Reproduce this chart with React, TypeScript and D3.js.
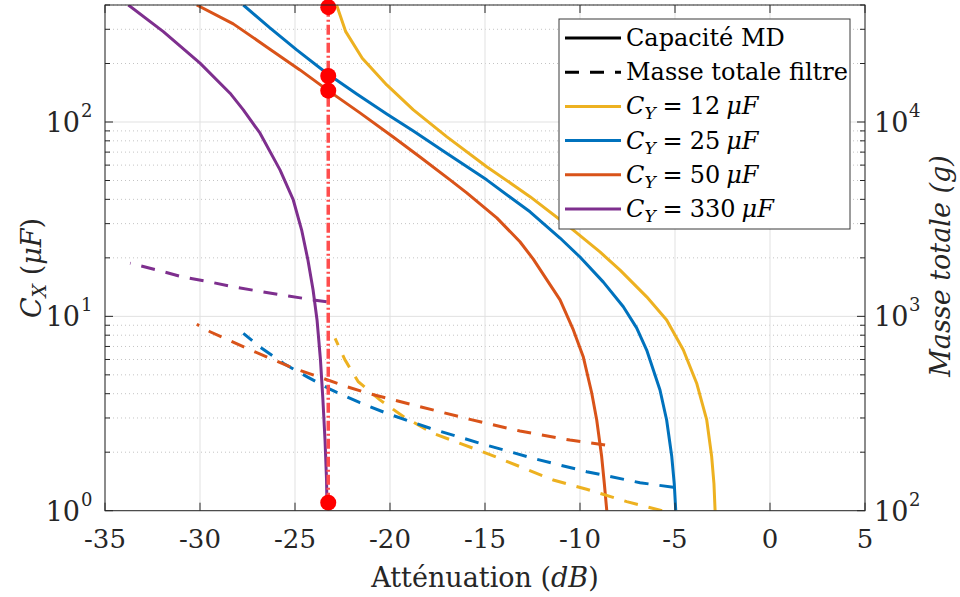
import React from "react";
import * as d3 from "d3";

// ---- data ----
const X_TICKS = [-35, -30, -25, -20, -15, -10, -5, 0, 5];
const LEFT_TICKS = [1, 10, 100];
const LEFT_EXP = ["0", "1", "2"];
const RIGHT_TICKS = [100, 1000, 10000];
const RIGHT_EXP = ["2", "3", "4"];

// Capacité MD (C_X in µF) vs attenuation (dB)
const capa12: [number, number][] = [[-22.81, 400], [-22.33, 291.7], [-21.46, 212.9], [-20.17, 155.2], [-18.77, 115.4], [-17.02, 84.1], [-14.91, 58.9], [-12.63, 41.3], [-10.35, 27.8], [-8.95, 21.45], [-7.89, 17.3], [-6.49, 12.6], [-5.44, 9.58], [-4.56, 6.71], [-3.86, 4.53], [-3.33, 2.93], [-3.07, 1.9], [-2.95, 1.38], [-2.89, 1.0]];
const capa25: [number, number][] = [[-27.72, 400], [-26.32, 305], [-24.91, 235], [-23.33, 178.3], [-21.75, 139.5], [-20.17, 110.1], [-18.77, 90], [-17.02, 69.1], [-14.91, 50.4], [-12.63, 34.5], [-11.05, 25.3], [-10.0, 20.2], [-8.77, 15.0], [-7.72, 11.2], [-7.02, 8.72], [-6.49, 6.71], [-5.79, 4.18], [-5.44, 2.93], [-5.17, 1.9], [-5.04, 1.38], [-4.96, 1.0]];
const capa50: [number, number][] = [[-30.17, 400], [-28.25, 319.8], [-26.49, 243.5], [-24.74, 185.4], [-23.25, 145.1], [-21.58, 111.4], [-19.83, 83.8], [-18.42, 66.1], [-16.84, 50.4], [-15.96, 43.2], [-14.38, 32.1], [-13.16, 24.2], [-12.46, 19.7], [-11.05, 12.15], [-10.35, 8.51], [-9.83, 6.2], [-9.38, 4.02], [-9.12, 2.93], [-8.86, 1.9], [-8.72, 1.38], [-8.59, 1.0]];
const capa330: [number, number][] = [[-33.77, 400], [-31.93, 291.7], [-30.0, 200.8], [-28.42, 140.7], [-27.72, 115.4], [-26.84, 87.6], [-25.79, 56.7], [-25.09, 39.7], [-24.65, 27.8], [-24.32, 19.5], [-24.05, 13.7], [-23.84, 9.58], [-23.66, 5.97], [-23.53, 3.71], [-23.42, 2.31], [-23.34, 1.44], [-23.32, 1.1]];

// Masse totale filtre (g) vs attenuation (dB)
const mass12: [number, number][] = [[-22.89, 771], [-22.37, 597], [-21.67, 461], [-20.53, 371.5], [-19.3, 305], [-17.72, 250], [-14.91, 197.4], [-11.41, 143.9], [-9.65, 128.9], [-7.54, 111.3], [-5.68, 100]];
const mass25: [number, number][] = [[-27.72, 818], [-26.75, 685], [-25.62, 574], [-24.38, 490], [-23.16, 422], [-21.58, 359.5], [-20.17, 317], [-17.89, 265.6], [-15.26, 222.3], [-12.28, 183.9], [-9.65, 158.8], [-6.84, 139.3], [-5.09, 132]];
const mass50: [number, number][] = [[-30.17, 910], [-29.47, 833], [-27.54, 685], [-26.32, 608], [-25.09, 541], [-23.68, 486], [-22.28, 435], [-21.05, 399], [-18.42, 343], [-15.79, 295], [-13.16, 257], [-10.53, 231], [-8.68, 218]];
const mass330: [number, number][] = [[-33.68, 1876], [-32.28, 1733], [-30.96, 1600], [-29.56, 1509], [-28.16, 1413], [-26.75, 1340], [-25.35, 1274], [-24.04, 1215], [-23.33, 1190]];

const CY_LABELS = ["12", "25", "50", "330"];
const COLORS = ["#EDB120", "#0072BD", "#D95319", "#7E2F8E"];

const SEL_X = -23.25;
const SEL_LINE_Y = [1.1, 400];
const SEL_MARKERS = [390, 172.5, 145, 1.1];

const FONT = "'DejaVu Serif', 'Liberation Serif', serif";

export default function App() {
  const left = 105, right = 865, top = 5, bottom = 510.7;
  const x = d3.scaleLinear().domain([-35, 5]).range([left, right]);
  const yL = d3.scaleLog().domain([1, 400]).range([bottom, top]);
  const yR = d3.scaleLog().domain([100, 40000]).range([bottom, top]);

  const lineL = d3
    .line<[number, number]>()
    .x((d) => x(d[0]))
    .y((d) => yL(d[1]));
  const lineR = d3
    .line<[number, number]>()
    .x((d) => x(d[0]))
    .y((d) => yR(d[1]));

  const solids = [capa12, capa25, capa50, capa330];
  const dashed = [mass12, mass25, mass50, mass330];

  const minorL: number[] = [];
  [1, 10, 100].forEach((dec) => {
    for (let k = 2; k <= 9; k++) if (k * dec <= 400) minorL.push(k * dec);
  });
  const minorR: number[] = [];
  [100, 1000, 10000].forEach((dec) => {
    for (let k = 2; k <= 9; k++) if (k * dec <= 40000) minorR.push(k * dec);
  });

  const axisColor = "#262626";
  const dash = "14 11";

  const legendRows = [38, 72.2, 106.4, 140.6, 174.8, 209];

  return (
    <svg width={960} height={597} style={{ position: "absolute", left: 0, top: 0, background: "#fff" }} fontFamily={FONT}>
      <defs>
        <clipPath id="plotClip">
          <rect x={left} y={top} width={right - left} height={bottom - top} />
        </clipPath>
      </defs>
      <rect x={0} y={0} width={960} height={597} fill="#fff" />
      {/* grid */}
      {minorL.map((v) => (
        <line key={"mg" + v} x1={left} x2={right} y1={yL(v)} y2={yL(v)} stroke="#c4c4c4" strokeWidth={1} strokeDasharray="1 3" />
      ))}
      {X_TICKS.map((t) => (
        <line key={"gx" + t} x1={x(t)} x2={x(t)} y1={top} y2={bottom} stroke="#e1e1e1" strokeWidth={1} />
      ))}
      {LEFT_TICKS.map((t) => (
        <line key={"gy" + t} x1={left} x2={right} y1={yL(t)} y2={yL(t)} stroke="#e1e1e1" strokeWidth={1} />
      ))}

      {/* data */}
      <g clipPath="url(#plotClip)">
        {solids.map((s, i) => (
          <path key={"s" + i} d={lineL(s) || ""} fill="none" stroke={COLORS[i]} strokeWidth={3} strokeLinejoin="round" />
        ))}
        {dashed.map((s, i) => (
          <path key={"d" + i} d={lineR([...s].reverse()) || ""} fill="none" stroke={COLORS[i]} strokeWidth={3} strokeDasharray={dash} />
        ))}
      </g>
      <line x1={x(SEL_X)} x2={x(SEL_X)} y1={yL(SEL_LINE_Y[0])} y2={yL(SEL_LINE_Y[1])} stroke="#FF4D4D" strokeWidth={3.5} strokeDasharray="10 3 2 3" />
      {SEL_MARKERS.map((m, i) => (
        <circle key={"m" + i} cx={x(SEL_X)} cy={yL(m)} r={8} fill="#FF0000" />
      ))}

      {/* axes box */}
      <rect x={left} y={top} width={right - left} height={bottom - top} fill="none" stroke={axisColor} strokeWidth={1} />
      {X_TICKS.map((t) => (
        <g key={"xt" + t}>
          <line x1={x(t)} x2={x(t)} y1={bottom} y2={bottom - 8} stroke={axisColor} />
          <line x1={x(t)} x2={x(t)} y1={top} y2={top + 8} stroke={axisColor} />
          <text x={x(t)} y={548} textAnchor="middle" fontSize={26} fill="#262626">{t < 0 ? "-" + Math.abs(t) : String(t)}</text>
        </g>
      ))}
      {LEFT_TICKS.map((t, i) => (
        <g key={"yl" + t}>
          <line x1={left} x2={left + 8} y1={yL(t)} y2={yL(t)} stroke={axisColor} />
          <text x={80} y={yL(t) + 10} textAnchor="end" fontSize={27} fill="#262626">10</text>
          <text x={81} y={yL(t) - 5} textAnchor="start" fontSize={18} fill="#262626">{LEFT_EXP[i]}</text>
        </g>
      ))}
      {minorL.map((v) => (
        <line key={"mtl" + v} x1={left} x2={left + 5} y1={yL(v)} y2={yL(v)} stroke={axisColor} />
      ))}
      {RIGHT_TICKS.map((t, i) => (
        <g key={"yr" + t}>
          <line x1={right} x2={right - 8} y1={yR(t)} y2={yR(t)} stroke={axisColor} />
          <text x={874} y={yR(t) + 10} textAnchor="start" fontSize={27} fill="#262626">10</text>
          <text x={909} y={yR(t) - 5} textAnchor="start" fontSize={18} fill="#262626">{RIGHT_EXP[i]}</text>
        </g>
      ))}
      {minorR.map((v) => (
        <line key={"mtr" + v} x1={right} x2={right - 5} y1={yR(v)} y2={yR(v)} stroke={axisColor} />
      ))}

      {/* axis labels */}
      <text x={(left + right) / 2} y={587} textAnchor="middle" fontSize={27} fill="#262626">
        Atténuation (<tspan fontStyle="italic">dB</tspan>)
      </text>
      <text transform={`translate(41,268) rotate(-90)`} textAnchor="middle" fontSize={27} fill="#262626">
        <tspan fontStyle="italic">C</tspan>
        <tspan fontStyle="italic" fontSize={19} dy={5}>X</tspan>
        <tspan dy={-5}> (</tspan>
        <tspan fontStyle="italic">μF</tspan>)
      </text>
      <text transform={`translate(950,266) rotate(-90)`} textAnchor="middle" fontSize={27} fontStyle="italic" fill="#262626">
        Masse totale (g)
      </text>

      {/* legend */}
      <rect x={559} y={19} width={291} height={210} fill="#fff" stroke="#3a3a3a" strokeWidth={1} />
      <line x1={565} x2={621} y1={legendRows[0]} y2={legendRows[0]} stroke="#000" strokeWidth={3} />
      <text x={626} y={legendRows[0] + 8} fontSize={24} fill="#000">Capacité MD</text>
      <line x1={565} x2={621} y1={legendRows[1]} y2={legendRows[1]} stroke="#000" strokeWidth={3} strokeDasharray={dash} />
      <text x={626} y={legendRows[1] + 8} fontSize={24} fill="#000">Masse totale filtre</text>
      {CY_LABELS.map((lab, i) => (
        <g key={"lg" + i}>
          <line x1={565} x2={621} y1={legendRows[i + 2]} y2={legendRows[i + 2]} stroke={COLORS[i]} strokeWidth={3} />
          <text x={626} y={legendRows[i + 2] + 8} fontSize={24} fill="#000">
            <tspan fontStyle="italic">C</tspan>
            <tspan fontStyle="italic" fontSize={17} dy={5}>Y</tspan>
            <tspan dy={-5} dx={7}>=</tspan>
            <tspan dx={7}>{lab}</tspan>
            <tspan dx={6} fontStyle="italic">μF</tspan>
          </text>
        </g>
      ))}
    </svg>
  );
}
